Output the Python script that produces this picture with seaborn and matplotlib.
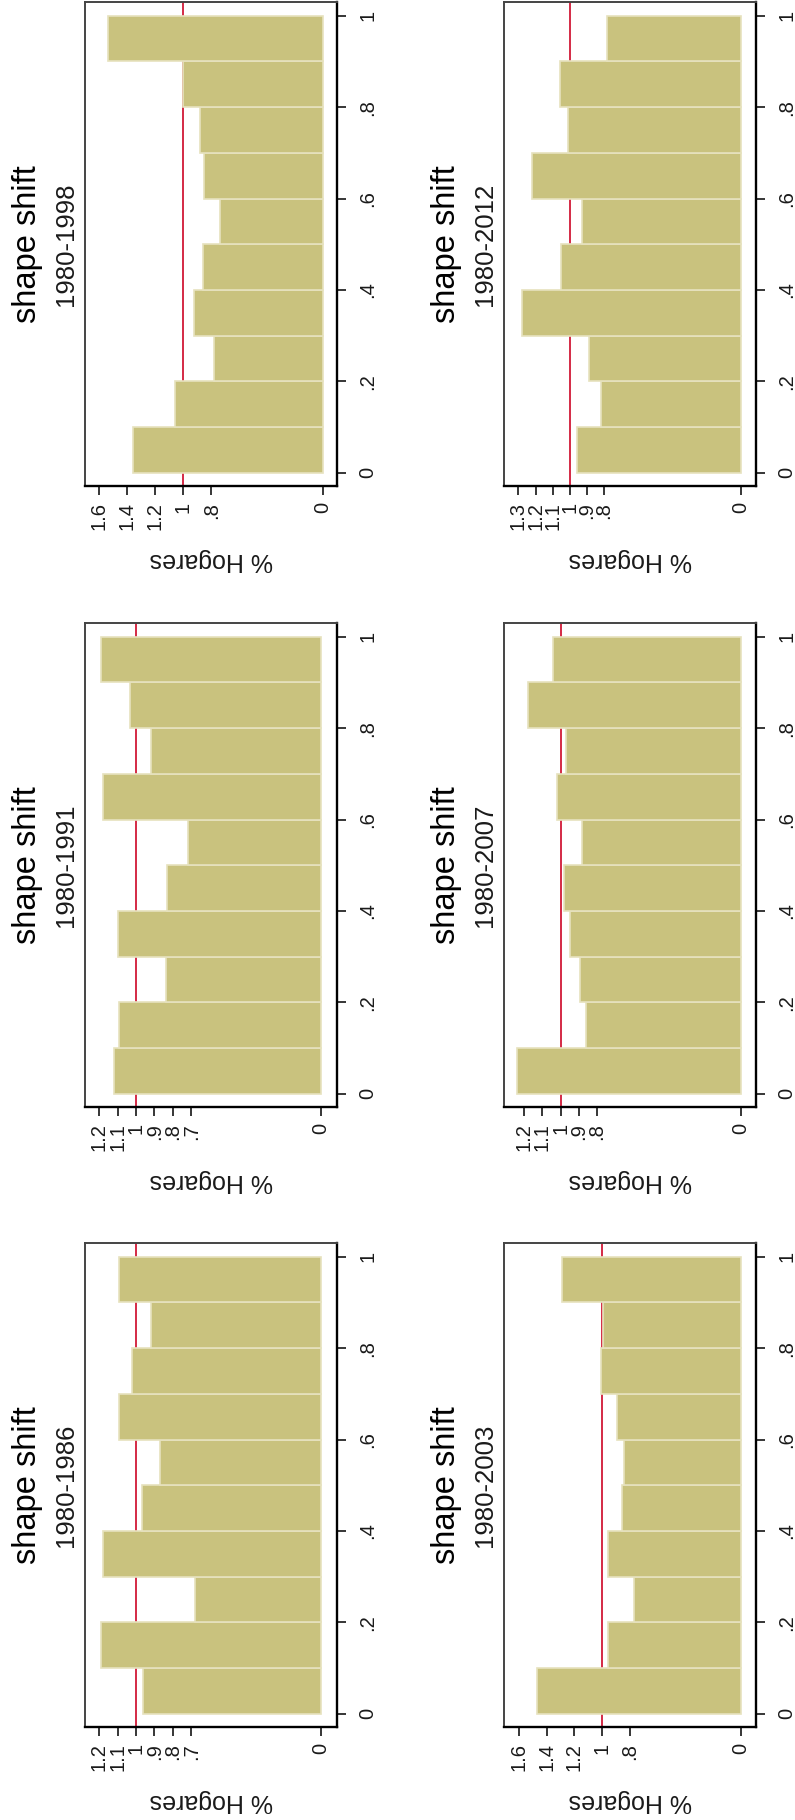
import matplotlib
matplotlib.use('Agg')
import matplotlib.pyplot as plt
import seaborn as sns
import pandas as pd

# Histogram bins of the shape position (10 bins on 0..1)
bin_mid = [0.05, 0.15, 0.25, 0.35, 0.45, 0.55, 0.65, 0.75, 0.85, 0.95]
bin_edges = [0.0, 0.1, 0.2, 0.3, 0.4, 0.5, 0.6, 0.7, 0.8, 0.9, 1.0]
pos_ticks = [0, 0.2, 0.4, 0.6, 0.8, 1]

periods = ['1980-1986', '1980-1991', '1980-1998', '1980-2003', '1980-2007', '1980-2012']

# % Hogares (relative density) per bin
h1986 = [0.96, 1.19, 0.68, 1.18, 0.97, 0.87, 1.09, 1.02, 0.92, 1.09]
h1991 = [1.12, 1.09, 0.84, 1.10, 0.83, 0.72, 1.18, 0.92, 1.03, 1.19]
h1998 = [1.36, 1.06, 0.78, 0.92, 0.86, 0.74, 0.85, 0.88, 1.00, 1.54]
h2003 = [1.47, 0.96, 0.77, 0.96, 0.86, 0.84, 0.89, 1.01, 0.99, 1.29]
h2007 = [1.24, 0.86, 0.89, 0.95, 0.98, 0.88, 1.02, 0.97, 1.18, 1.04]
h2012 = [0.96, 0.82, 0.89, 1.28, 1.05, 0.93, 1.22, 1.01, 1.06, 0.78]

# value axis ticks per panel
t1986 = [0, 0.7, 0.8, 0.9, 1, 1.1, 1.2]
t1991 = [0, 0.7, 0.8, 0.9, 1, 1.1, 1.2]
t1998 = [0, 0.8, 1, 1.2, 1.4, 1.6]
t2003 = [0, 0.8, 1, 1.2, 1.4, 1.6]
t2007 = [0, 0.8, 0.9, 1, 1.1, 1.2]
t2012 = [0, 0.8, 0.9, 1, 1.1, 1.2, 1.3]

values = dict(zip(periods, [h1986, h1991, h1998, h2003, h2007, h2012]))
ticks = dict(zip(periods, [t1986, t1991, t1998, t2003, t2007, t2012]))
vlims = dict(zip(periods, [(1.276, -0.088), (1.276, -0.088), (1.703, -0.101),
                           (1.706, -0.108), (1.313, -0.083), (1.384, -0.087)]))

# figure is the Stata combined graph turned a quarter turn
layout = {'1980-1998': (0, 0), '1980-1991': (0, 1), '1980-1986': (0, 2),
          '1980-2012': (1, 0), '1980-2007': (1, 1), '1980-2003': (1, 2)}
col_left = [85 / 795, 504 / 795]
col_w = 252 / 795
row_bottom = [1 - 486 / 1820, 1 - 1107 / 1820, 1 - 1727 / 1820]
row_h = 484 / 1820

sns.set_style('white')
plt.rcParams['font.family'] = ['Liberation Sans', 'DejaVu Sans']

bar_color = '#C9C27E'
edge_color = '#E6E2BE'
text_color = '#1a1a1a'


def stata_label(v):
    if v == 0:
        return '0'
    s = f'{v:g}'
    return s[1:] if s.startswith('0') else s


fig = plt.figure(figsize=(7.95, 18.2), dpi=100)

for period in periods:
    c, r = layout[period]
    ax = fig.add_axes([col_left[c], row_bottom[r], col_w, row_h])
    df = pd.DataFrame({'pos': bin_mid, 'share': values[period]})
    sns.histplot(data=df, y='pos', weights='share', bins=bin_edges, ax=ax,
                 color=bar_color, alpha=1, edgecolor=edge_color, linewidth=1.2,
                 zorder=2)
    ax.axvline(1, color='#D42A45', lw=1.4, zorder=1)

    ax.set_xlim(*vlims[period])
    ax.set_ylim(-0.029, 1.03)

    ax.set_xticks(ticks[period])
    ax.set_xticklabels([stata_label(v) for v in ticks[period]], rotation=90,
                       va='top', ha='center', fontsize=14.5, color=text_color)
    ax.yaxis.tick_right()
    ax.set_yticks(pos_ticks)
    ax.set_yticklabels([stata_label(v) for v in pos_ticks], rotation=90,
                       va='center', ha='left', fontsize=14.5, color=text_color)
    ax.tick_params(axis='x', length=6.5, width=1.1, pad=5, color='black', bottom=True)
    ax.tick_params(axis='y', length=6.5, width=1.1, pad=9, color='black', right=True, left=False)
    ax.set_xlabel('')
    ax.set_ylabel('')

    for side in ['left', 'top']:
        ax.spines[side].set_color('#444444')
        ax.spines[side].set_linewidth(1.4)
    for side in ['bottom', 'right']:
        ax.spines[side].set_color('black')
        ax.spines[side].set_linewidth(1.7)

    ax.text(-57 / 252, 0.5, 'shape shift', rotation=90, ha='center', va='center',
            fontsize=23.5, color='black', transform=ax.transAxes)
    ax.text(-19 / 252, 0.5, period, rotation=90, ha='center', va='center',
            fontsize=18.5, color=text_color, transform=ax.transAxes)
    ax.text(0.5, -74 / 484, '% Hogares', rotation=180, ha='center', va='center',
            fontsize=18, color=text_color, transform=ax.transAxes)

fig.savefig('out.png', dpi=100)
